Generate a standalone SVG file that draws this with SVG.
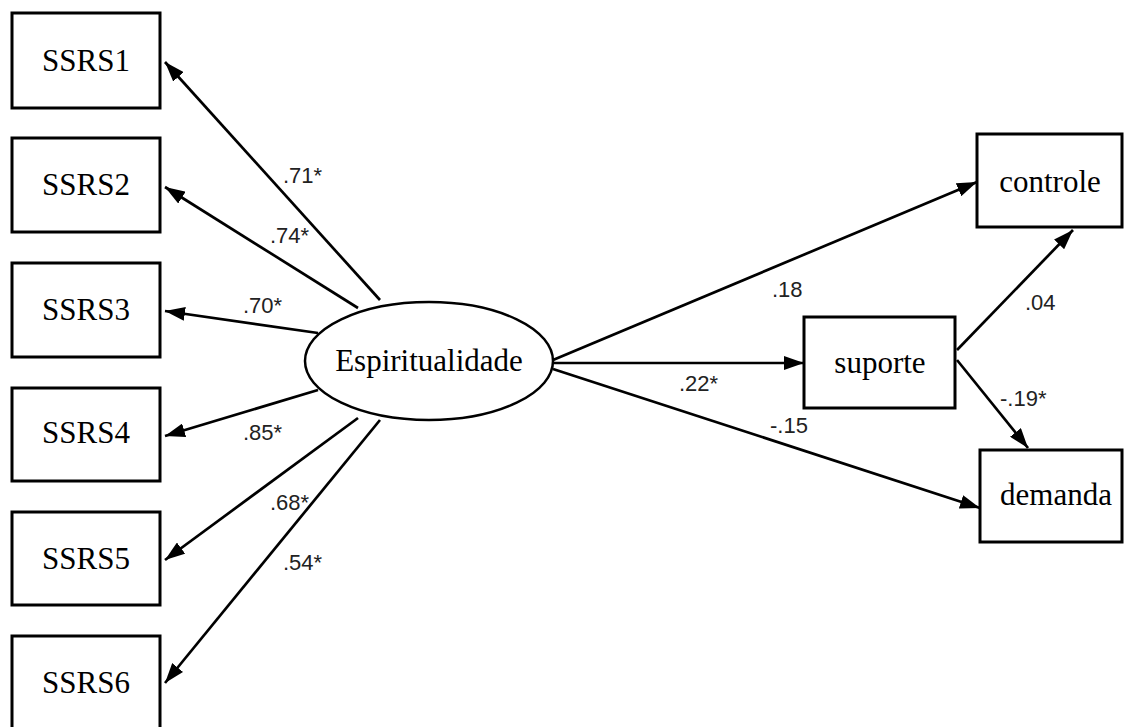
<svg xmlns="http://www.w3.org/2000/svg" width="1127" height="727" viewBox="0 0 1127 727">
<style>
.box{fill:#fff;stroke:#000;stroke-width:3}
.ell{fill:#fff;stroke:#000;stroke-width:2.5}
.nt{font-family:"Liberation Serif","Times New Roman",serif;font-size:31px;fill:#000;text-anchor:middle}
.lbl{font-family:"Liberation Sans",Arial,sans-serif;font-size:22px;fill:#222}
.edge{stroke:#000;stroke-width:2.7;fill:none;marker-end:url(#ah)}
</style>
<defs>
<marker id="ah" markerUnits="userSpaceOnUse" markerWidth="22" markerHeight="14" refX="20" refY="7" orient="auto" viewBox="0 0 22 14">
<path d="M0,0 L20,7 L0,14 z" fill="#000"/>
</marker>
</defs>
<rect width="1127" height="727" fill="#fff"/>
<g id="connectors">
<line class="edge" x1="380" y1="300" x2="165" y2="62"/>
<line class="edge" x1="358" y1="308" x2="165" y2="187"/>
<line class="edge" x1="318" y1="333" x2="165" y2="311"/>
<line class="edge" x1="318" y1="390" x2="165" y2="436"/>
<line class="edge" x1="358" y1="418" x2="165" y2="560"/>
<line class="edge" x1="380" y1="420" x2="165" y2="683"/>
<line class="edge" x1="553" y1="360" x2="977" y2="182"/>
<line class="edge" x1="554" y1="363" x2="804" y2="363"/>
<line class="edge" x1="553" y1="369" x2="980" y2="508"/>
<line class="edge" x1="957" y1="350" x2="1073" y2="230"/>
<line class="edge" x1="957" y1="360" x2="1028" y2="448"/>
<text class="lbl" x="283" y="183">.71*</text>
<text class="lbl" x="270" y="243">.74*</text>
<text class="lbl" x="243" y="313">.70*</text>
<text class="lbl" x="243" y="440">.85*</text>
<text class="lbl" x="270" y="510">.68*</text>
<text class="lbl" x="283" y="570">.54*</text>
<text class="lbl" x="772" y="297">.18</text>
<text class="lbl" x="1025" y="310">.04</text>
<text class="lbl" x="679" y="391">.22*</text>
<text class="lbl" x="770" y="433">-.15</text>
<text class="lbl" x="1000" y="406">-.19*</text>
</g>
<g id="SSRS1"><rect class="box" x="12" y="13" width="148" height="95"/><text class="nt" x="86" y="71">SSRS1</text></g>
<g id="SSRS2"><rect class="box" x="12" y="138" width="148" height="94"/><text class="nt" x="86" y="195">SSRS2</text></g>
<g id="SSRS3"><rect class="box" x="12" y="263" width="148" height="94"/><text class="nt" x="86" y="320">SSRS3</text></g>
<g id="SSRS4"><rect class="box" x="12" y="388" width="148" height="93"/><text class="nt" x="86" y="443">SSRS4</text></g>
<g id="SSRS5"><rect class="box" x="12" y="512" width="148" height="93"/><text class="nt" x="86" y="569">SSRS5</text></g>
<g id="SSRS6"><rect class="box" x="12" y="636" width="148" height="94"/><text class="nt" x="86" y="693">SSRS6</text></g>
<g id="Espiritualidade"><ellipse class="ell" cx="429" cy="361" rx="124" ry="59"/><text class="nt" x="429" y="371">Espiritualidade</text></g>
<g id="controle"><rect class="box" x="977" y="134" width="145" height="93"/><text class="nt" x="1050" y="192">controle</text></g>
<g id="suporte"><rect class="box" x="804" y="317" width="151" height="91"/><text class="nt" x="880" y="373">suporte</text></g>
<g id="demanda"><rect class="box" x="980" y="450" width="142" height="92"/><text class="nt" x="1056" y="505">demanda</text></g>
</svg>
